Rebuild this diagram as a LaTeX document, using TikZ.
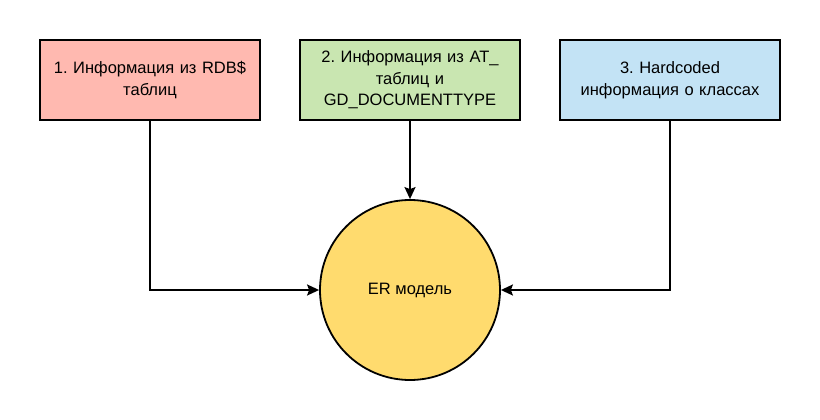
\documentclass[tikz,border=0pt]{standalone}
\usepackage{fontspec}
\setmainfont{Liberation Sans}
\usetikzlibrary{positioning, arrows.meta}
\definecolor{ink}{HTML}{000000}
\definecolor{rdbfill}{HTML}{FFB9B0}
\definecolor{atfill}{HTML}{C9E6B1}
\definecolor{hardfill}{HTML}{C3E3F5}
\definecolor{erfill}{HTML}{FFDB6E}
\frenchspacing

\begin{document}
\begin{tikzpicture}[
  node distance=38.2pt,
  srcbox/.style={rectangle, draw=ink, line width=1.8pt,
              minimum width=220pt, minimum height=80pt,
              text width=210pt, align=center,
              font=\fontsize{16.5}{21.5}\selectfont},
  ermodel/.style={circle, draw=ink, line width=1.8pt, fill=erfill,
              minimum size=180pt, inner sep=0pt,
              font=\fontsize{16.5}{21.5}\selectfont},
  arr/.style={-{Stealth[length=12pt, width=11pt, inset=2pt]}, line width=1.8pt, draw=ink}
]
\useasboundingbox (0,0) rectangle (820pt,-420pt);
\node[srcbox, fill=rdbfill] (rdb) at (150pt,-80pt) {1. Информация из RDB\$\\таблиц};
\node[srcbox, fill=atfill, right=of rdb] (at) {2. Информация из AT\_\\таблиц и\\GD\_DOCUMENTTYPE};
\node[srcbox, fill=hardfill, right=of at] (hard) {3. Hardcoded\\информация о классах};
\node[ermodel, below=78.2pt of at] (er) {ER модель};

\draw[arr] (rdb.south) |- (er.west);
\draw[arr] (at) -- (er);
\draw[arr] (hard.south) |- (er.east);
\end{tikzpicture}
\end{document}
